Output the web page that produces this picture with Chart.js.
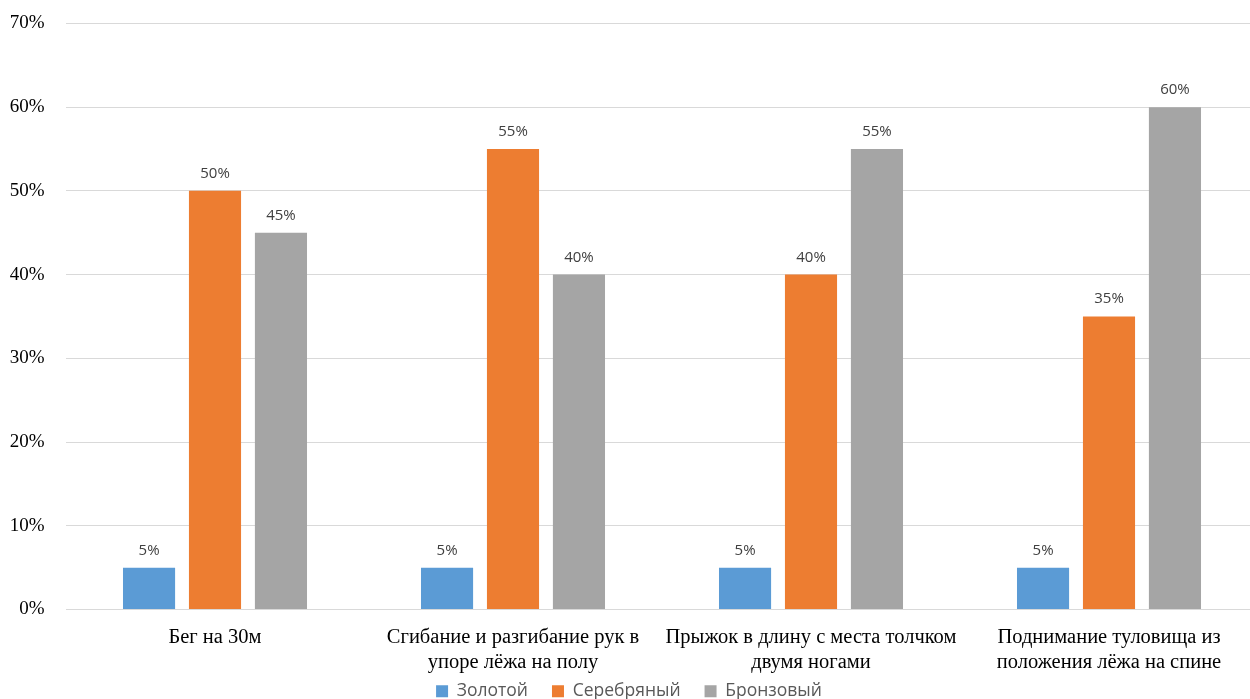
<!DOCTYPE html>
<html><head><meta charset="utf-8">
<script src="https://cdn.jsdelivr.net/npm/chart.js@4/dist/chart.umd.min.js"></script>
<style>html,body{margin:0;padding:0;background:#fff;overflow:hidden;width:1250px;height:699px}#w{width:1258px;height:710px}</style>
</head><body><div id="w"><canvas id="c"></canvas></div>
<script>
const categories = [
  ["Бег на 30м"],
  ["Сгибание и разгибание рук в", "упоре лёжа на полу"],
  ["Прыжок в длину с места толчком", "двумя ногами"],
  ["Поднимание туловища из", "положения лёжа на спине"]
];
const seriesNames = ["Золотой", "Серебряный", "Бронзовый"];
const gold = [5, 5, 5, 5];
const silver = [50, 55, 40, 35];
const bronze = [45, 40, 55, 60];
const yTicks = [0, 10, 20, 30, 40, 50, 60, 70];
const colors = ["#5b9bd5", "#ed7d31", "#a5a5a5"];

const labelPlugin = {
  id: 'barLabels',
  afterLayout(chart) {
    // let the x-axis labels draw over the legend band without clipping
    chart.scales.x.bottom = chart.height;
  },
  afterDatasetsDraw(chart) {
    const ctx = chart.ctx;
    ctx.save();
    ctx.font = '15px "Open Sans", "Liberation Sans", sans-serif';
    ctx.fillStyle = '#404040';
    ctx.textAlign = 'center';
    ctx.textBaseline = 'alphabetic';
    chart.data.datasets.forEach((ds, i) => {
      chart.getDatasetMeta(i).data.forEach((bar, j) => {
        ctx.fillText(ds.data[j] + '%', bar.x, bar.y - 13);
      });
    });
    ctx.restore();
  }
};

new Chart(document.getElementById('c'), {
  type: 'bar',
  data: {
    labels: categories,
    datasets: [gold, silver, bronze].map((d, i) => ({
      label: seriesNames[i],
      data: d,
      backgroundColor: colors[i],
      categoryPercentage: 0.664,
      barPercentage: 0.79
    }))
  },
  options: {
    responsive: true,
    maintainAspectRatio: false,
    animation: false,
    layout: { padding: { top: 0, right: 0, left: 0, bottom: 0 } },
    plugins: {
      tooltip: { enabled: false },
      legend: {
        position: 'bottom',
        labels: {
          boxWidth: 12, boxHeight: 12, padding: 24,
          color: '#595959',
          font: { family: '"Open Sans", "Liberation Sans", sans-serif', size: 17.5 }
        }
      }
    },
    scales: {
      x: {
        afterFit: s => { s.height = 49; },
        grid: { display: false, drawTicks: false },
        border: { color: '#d9d9d9', width: 1 },
        ticks: {
          color: '#000', padding: 16, maxRotation: 0, autoSkip: false,
          font: { family: '"Liberation Serif", "Times New Roman", serif', size: 20.5, lineHeight: '25px' }
        }
      },
      y: {
        min: 0, max: 70,
        afterBuildTicks: s => { s.ticks = yTicks.map(v => ({ value: v })); },
        afterFit: s => { s.width = 66; },
        grid: { color: '#d9d9d9', drawTicks: true, tickLength: 9.5, tickColor: 'rgba(0,0,0,0)' },
        border: { display: false },
        ticks: {
          color: '#000', padding: 12,
          callback: v => v + '%',
          font: { family: '"Liberation Serif", "Times New Roman", serif', size: 19 }
        }
      }
    }
  },
  plugins: [labelPlugin]
});
</script>
</body></html>
